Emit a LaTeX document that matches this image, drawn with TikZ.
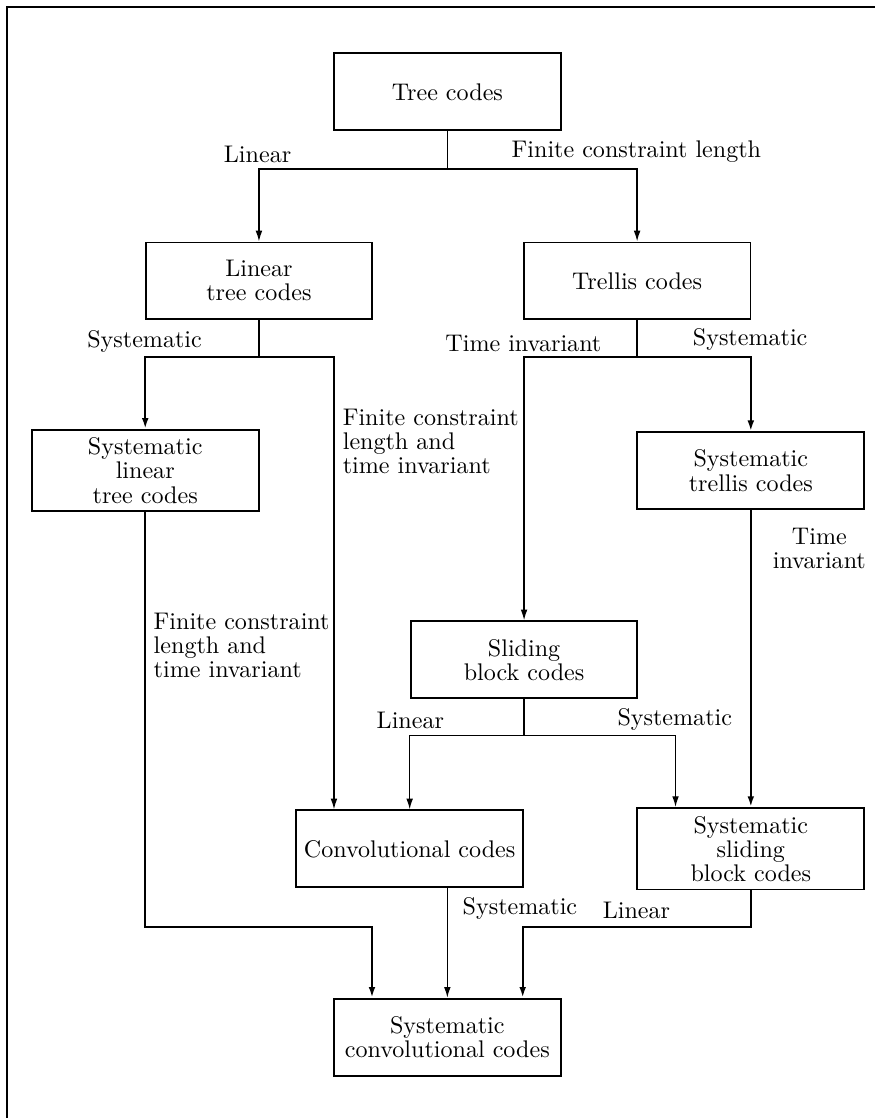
\documentclass[tikz,border=0pt]{standalone}
\usetikzlibrary{arrows.meta}
\begin{document}
\begin{tikzpicture}[every node/.style={font=\fontsize{10}{10}\selectfont},
  codebox/.style={draw, line width=0.8pt, minimum width=3.31cm, minimum height=1.12cm, align=center},
  link/.style={line width=0.6pt},
  arr/.style={link, -{Latex[length=4.5pt,width=2.8pt]}},
  sysarr/.style={arr, line width=1pt}]
  \useasboundingbox (0,0) rectangle (12.775,-16.32);
  \draw[line width=0.6pt] (0.1,-16.32) -- (0.1,-0.1) -- (12.775,-0.1);

  % code families
  \node[codebox] (tree) at (6.53,-1.34) {Tree codes};
  \node[codebox] (ltree) at (3.78,-4.10) {Linear\\tree codes};
  \node[codebox] (trellis) at (9.30,-4.10) {Trellis codes};
  \node[codebox] (sltree) at (2.12,-6.87) {Systematic\\linear\\tree codes};
  \node[codebox] (strellis) at (10.96,-6.87) {Systematic\\trellis codes};
  \node[codebox] (sliding) at (7.65,-9.63) {Sliding\\block codes};
  \node[codebox] (conv) at (5.98,-12.39) {Convolutional codes};
  \node[codebox] (ssliding) at (10.96,-12.39) {Systematic\\sliding\\block codes};
  \node[codebox] (sconv) at (6.53,-15.14) {Systematic\\convolutional codes};

  % branch points
  \coordinate (b1) at ([yshift=-0.55cm]tree.south);
  \coordinate (b2) at ([yshift=-0.54cm]ltree.south);
  \coordinate (b3) at ([yshift=-0.54cm]trellis.south);
  \coordinate (b4) at ([yshift=-0.53cm]sliding.south);
  \coordinate (b5) at ([yshift=-0.53cm]ssliding.south);

  \draw[link] (tree.south) -- (b1);
  \draw[arr] (b1) -| (ltree.north);
  \draw[arr] (b1) -| (trellis.north);

  \draw[link] (ltree.south) -- (b2);
  \draw[sysarr] (b2) -| (sltree.north);
  \draw[arr] (b2) -| ([xshift=0.57cm]conv.north west);

  \draw[link] (trellis.south) -- (b3);
  \draw[arr] (b3) -| (sliding.north);
  \draw[sysarr] (b3) -| (strellis.north);
  \draw[sysarr] (strellis.south) -- (ssliding.north);

  \draw[link] (sliding.south) -- (b4);
  \draw[arr] (b4) -| (conv.north);
  \draw[arr] (b4) -| ([xshift=0.57cm]ssliding.north west);

  \draw[arr] (conv.south -| sconv.north) -- (sconv.north);
  \draw[sysarr] (sltree.south) -- (sltree.south |- b5) -| ([xshift=-1.1cm]sconv.north);
  \draw[sysarr] (ssliding.south) -- (b5) -| ([xshift=1.1cm]sconv.north);

  % edge labels
  \node (lLin) at (3.76,-2.25) {Linear};
  \node (lFcl) at (9.29,-2.22) {Finite constraint length};
  \node (lSys) at (2.11,-4.98) {Systematic};
  \node (lTi) at (7.64,-5.01) {Time invariant};
  \node (lSysB) at (10.95,-4.96) {Systematic};
  \node[anchor=west, align=left] (lFclB) at (4.88,-6.44) {Finite constraint\\length and\\time invariant};
  \node[align=center] (lTiB) at (11.96,-8.01) {Time\\invariant};
  \node[anchor=west, align=left] (lFclC) at (2.12,-9.42) {Finite constraint\\length and\\time invariant};
  \node (lLinB) at (5.99,-10.51) {Linear};
  \node (lSysC) at (9.85,-10.50) {Systematic};
  \node[anchor=west] (lSysD) at (6.63,-13.26) {Systematic};
  \node (lLinC) at (9.29,-13.29) {Linear};
\end{tikzpicture}
\end{document}
